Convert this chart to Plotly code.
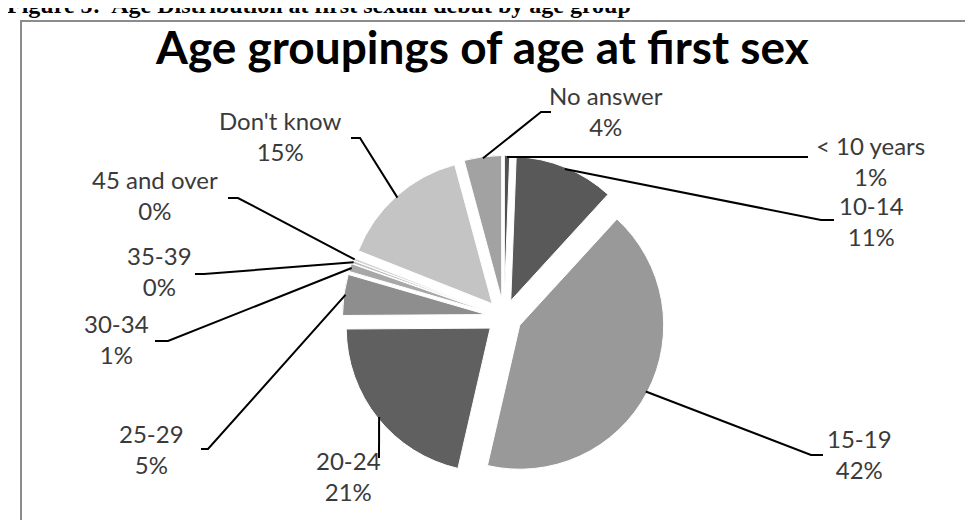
import math
import plotly.graph_objects as go

# ---------------- data ----------------
labels = ["< 10 years", "10-14", "15-19", "20-24", "25-29",
          "30-34", "35-39", "45 and over", "Don't know", "No answer"]
values = [0.6, 11.2, 41.8, 21.3, 4.6, 0.9, 0.3, 0.3, 14.8, 4.2]
pct_labels = ["1%", "11%", "42%", "21%", "5%", "1%", "0%", "0%", "15%", "4%"]

title_text = "Age groupings of age at first sex"
caption_text = "Figure 5:  Age Distribution at first sexual debut by age group"

# ---------------- styles / layout ----------------
colors = ["#505050", "#595959", "#999999", "#606060", "#8e8e8e",
          "#a8a8a8", "#bcbcbc", "#d2d2d2", "#c4c4c4", "#a2a2a2"]

W, H = 973, 520
dom_x = [0.3436, 0.6760]
dom_y = [0.0948, 0.7167]
pull = 0.123

# label placement (px): text centre x, first-line centre y, elbow point, end point
label_cx = [862, 863, 851, 340, 143, 108, 151, 147, 272, 598]
label_y1 = [147, 207, 440, 462, 435, 325, 257, 181, 122, 97]
elbow = [(791, 149), (813, 212), (803, 447), (371, 450), (200, 441),
         (160, 333), (196, 266), (230, 190), (352, 130), (533, 104)]
end = [(800, 149), (826, 212), (815, 447), (371, 450), (193, 441),
       (147, 333), (187, 266), (220, 190), (343, 130), (543, 104)]


def px(x):
    return x / W


def py(y):
    return 1 - y / H


# pie geometry as computed by plotly
box = min(W * (dom_x[1] - dom_x[0]), H * (dom_y[1] - dom_y[0]))
r = box / (2 + 2 * pull)
cx = W * (dom_x[0] + dom_x[1]) / 2
cy = H * (1 - (dom_y[0] + dom_y[1]) / 2)

fig = go.Figure()
fig.add_trace(go.Pie(
    labels=labels, values=values, sort=False, direction="clockwise",
    rotation=0, pull=[pull] * len(values),
    marker=dict(colors=colors, line=dict(color="white", width=1)),
    textinfo="none", hoverinfo="label+percent", showlegend=False,
    domain=dict(x=dom_x, y=dom_y),
))

shapes = []
annotations = []
total = sum(values)
cum = 0.0
for i, v in enumerate(values):
    theta = 2 * math.pi * (cum + v / 2) / total
    cum += v
    rr = r * (1 + pull) * 0.99
    sx = cx + rr * math.sin(theta)
    sy = cy - rr * math.cos(theta)
    ex, ey = elbow[i]
    tx, ty = end[i]
    path = "M {} {} L {} {} L {} {}".format(px(sx), py(sy), px(ex), py(ey), px(tx), py(ty))
    shapes.append(dict(type="path", path=path, xref="paper", yref="paper",
                       line=dict(color="black", width=2), layer="above"))
    annotations.append(dict(
        text=labels[i] + "<br>" + pct_labels[i], x=px(label_cx[i]), y=py(label_y1[i] + 6),
        xref="paper", yref="paper", xanchor="center", yanchor="middle",
        showarrow=False, align="center",
        font=dict(family="Lato", size=24, color="#3a3a3a")))

# chart frame
shapes.append(dict(type="rect", xref="paper", yref="paper",
                   x0=px(13), y0=-0.05, x1=1.05, y1=py(13),
                   line=dict(color="#8c8c8c", width=2), layer="below"))

# chart title
annotations.append(dict(text="<b>" + title_text + "</b>", x=px(474), y=py(39),
                        xref="paper", yref="paper", xanchor="center", yanchor="middle",
                        showarrow=False,
                        font=dict(family="Lato", size=46, color="black")))
# figure caption (cut at the top)
annotations.append(dict(text="<b>" + caption_text + "</b>", x=0, y=py(-3), xshift=-3,
                        xref="paper", yref="paper", xanchor="left", yanchor="middle",
                        showarrow=False,
                        font=dict(family="Liberation Serif", size=24, color="black")))

fig.update_layout(width=W, height=H, margin=dict(l=0, r=0, t=0, b=0),
                  paper_bgcolor="white", plot_bgcolor="white",
                  shapes=shapes, annotations=annotations)
fig.write_html("out.html")
